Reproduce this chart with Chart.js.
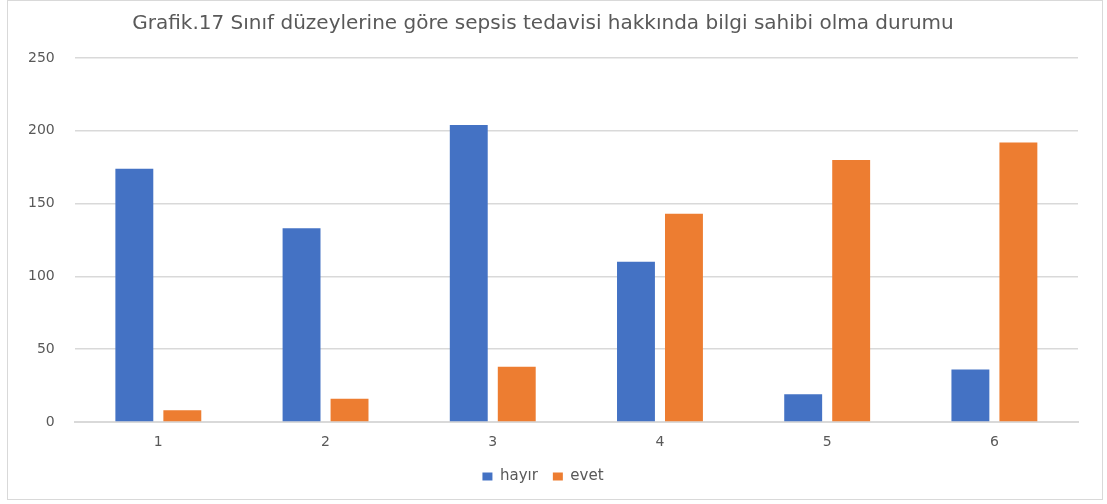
<!DOCTYPE html>
<html>
<head>
<meta charset="utf-8">
<script src="https://cdn.jsdelivr.net/npm/chart.js@4/dist/chart.umd.min.js"></script>
<style>
  html, body { margin: 0; padding: 0; background: #fff; }
  #box {
    position: absolute; left: 7px; top: 0px;
    width: 1094px; height: 498px;
    border: 1px solid #d9d9d9;
  }
</style>
</head>
<body>
<div id="box"><canvas id="myChart"></canvas></div>
<script>
// sınıf düzeyleri
const siniflar = ['1', '2', '3', '4', '5', '6'];
const hayir = [174, 133, 204, 110, 19, 36];
const evet = [8, 16, 38, 143, 180, 192];

const baslik = 'Grafik.17 Sınıf düzeylerine göre sepsis tedavisi hakkında bilgi sahibi olma durumu';
const fontAdi = "'DejaVu Sans', sans-serif";

const ctx = document.getElementById('myChart');

new Chart(ctx, {
    type: 'bar',
    data: {
        labels: siniflar,
        datasets: [
            { label: 'hayır', data: hayir, backgroundColor: '#4472c4' },
            { label: 'evet', data: evet, backgroundColor: '#ed7d31' }
        ]
    },
    options: {
        responsive: true,
        maintainAspectRatio: false,
        animation: false,
        layout: { padding: { left: 0, right: 24, top: 4, bottom: 5 } },
        datasets: {
            bar: { categoryPercentage: 0.574, barPercentage: 0.79 }
        },
        plugins: {
            title: {
                display: true,
                text: baslik,
                color: '#595959',
                font: { family: fontAdi, size: 20, weight: 'normal' },
                padding: { top: 7, bottom: 22 }
            },
            legend: {
                position: 'bottom',
                labels: {
                    color: '#595959',
                    font: { family: fontAdi, size: 15 },
                    boxWidth: 10,
                    boxHeight: 8,
                    padding: 15
                }
            },
            tooltip: { enabled: false }
        },
        scales: {
            x: {
                grid: { display: false, drawTicks: false },
                border: { color: '#d9d9d9', width: 2 },
                ticks: { color: '#595959', font: { family: fontAdi, size: 14 }, padding: 12 },
                // legend sits closer to the tick labels
                afterFit: (scale) => { scale.height = 32; }
            },
            y: {
                min: 0,
                max: 250,
                ticks: { stepSize: 50, color: '#595959', font: { family: fontAdi, size: 14 }, padding: 20 },
                grid: { color: '#d9d9d9', lineWidth: 1.5, drawTicks: false },
                border: { display: false }
            }
        }
    }
});
</script>
</body>
</html>
